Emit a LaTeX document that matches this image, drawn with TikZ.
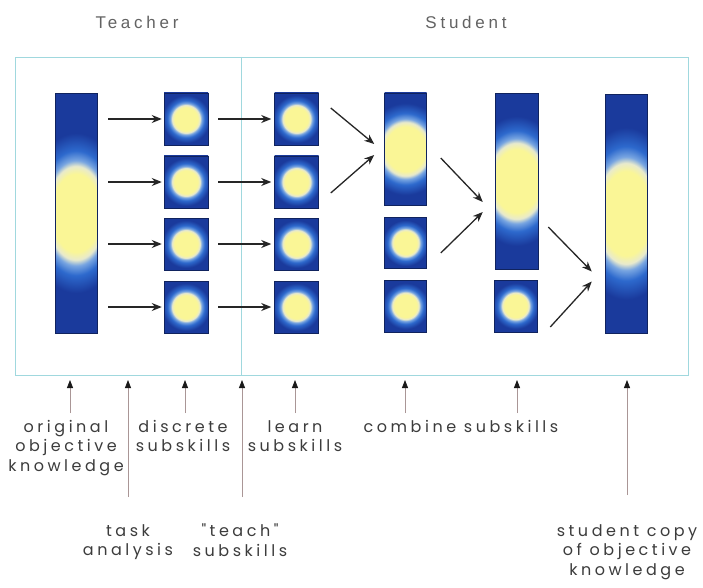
\documentclass[tikz,border=0pt]{standalone}
\usepackage{fontspec}
\setmainfont{Poppins}
\newfontfamily\labfont[LetterSpace=22]{Poppins}
\newfontfamily\headfont[LetterSpace=22]{Liberation Sans}
\usetikzlibrary{arrows.meta}
\definecolor{gd}{RGB}{26,58,156}
\definecolor{gm}{RGB}{45,105,205}
\definecolor{gl}{RGB}{120,165,225}
\definecolor{gw}{RGB}{232,234,205}
\definecolor{gy}{RGB}{250,246,150}
\definecolor{framec}{RGB}{160,216,222}
\definecolor{annc}{RGB}{170,150,150}
\definecolor{txt}{RGB}{60,60,60}
\pgfdeclareradialshading{glow}{\pgfpoint{0bp}{0bp}}{color(0bp)=(gy); color(10bp)=(gy); color(12bp)=(gw); color(13.5bp)=(gl); color(16bp)=(gm); color(20.5bp)=(gd); color(25bp)=(gd); color(50bp)=(gd)}
\tikzset{
  glowbox/.style n args={5}{rectangle, draw=gd!60!black, line width=0.5pt, inner sep=0pt,
    minimum width=#1, minimum height=#2,
    path picture={
      \fill[gd] (path picture bounding box.south west) rectangle (path picture bounding box.north east);
      \shade[shading=glow] ([shift={(-#4/2,#3-#5/2)}]path picture bounding box.center) rectangle ++(#4,#5);
    }},
  sq/.style={glowbox={44pt}{52pt}{0}{58}{58}},
  arr/.style={draw=black!85, line width=1.3pt, -{Stealth[length=10pt,width=8pt]}},
  ann/.style={draw=annc, line width=0.8pt, -{Triangle[length=8pt,width=6pt,color=black!90]}},
  lab/.style={font={\labfont\fontsize{16pt}{19.5pt}\selectfont}, text=txt, align=center, anchor=north, inner sep=0pt},
  head/.style={font={\headfont\fontsize{17pt}{20pt}\selectfont}, text=txt!80, inner sep=0pt},
}
\begin{document}
\begin{tikzpicture}[x=1pt,y=-1pt]
\useasboundingbox[fill=white] (0,0) rectangle (703,588);
% frame
\draw[framec, line width=0.9pt] (15,57) rectangle (688,375);
\draw[framec, line width=0.9pt] (241,57) -- (241,375);
\node[head] (teacher) at (137,22) {Teacher};
\node[head] (student) at (466,22) {Student};
% original bar
\node[glowbox={42pt}{240pt}{0}{120}{195}] (b0) at (76,213) {};
% discrete subskills
\node[sq] (a1) at (186,119) {};
\node[sq] (a2) at (186,182) {};
\node[sq] (a3) at (186,244) {};
\node[sq] (a4) at (186,307) {};
% learned subskills
\node[sq] (c1) at (296.5,119) {};
\node[sq] (c2) at (296.5,182) {};
\node[sq] (c3) at (296.5,244) {};
\node[sq] (c4) at (296.5,307) {};
% combine column
\node[glowbox={42pt}{112pt}{0}{100}{112}] (d1) at (405.5,149) {};
\node[glowbox={42pt}{51pt}{0}{56}{56}] (d2) at (405.5,243) {};
\node[glowbox={42pt}{52pt}{0}{56}{56}] (d3) at (405.5,306) {};
% next column
\node[glowbox={43pt}{176pt}{0}{115}{158}] (e1) at (516.5,181) {};
\node[glowbox={43pt}{52pt}{0}{56}{56}] (e2) at (515.5,306) {};
% final bar
\node[glowbox={42pt}{239pt}{0}{125}{210}] (f) at (626,213.5) {};
% arrows teacher
\foreach \i in {1,...,4}{
  \draw[arr, shorten <=11pt, shorten >=2pt] (b0.east |- a\i.west) -- (a\i.west);
  \draw[arr, shorten <=10pt, shorten >=3pt] (a\i.east) -- (c\i.west);
}
% arrows combine
\draw[arr] ([shift={(12,-11)}]c1.east) -- ([shift={(-10,-5)}]d1.west);
\draw[arr] ([shift={(12,11)}]c2.east) -- ([shift={(-10,6)}]d1.west);
\draw[arr] ([shift={(14,9)}]d1.east) -- ([shift={(-12,21)}]e1.west);
\draw[arr] ([shift={(14,10)}]d2.east) -- ([shift={(-12,31)}]e1.west);
\draw[arr] ([shift={(10,46)}]e1.east) -- ([shift={(-13,58)}]f.west);
\draw[arr] ([shift={(13,21)}]e2.east) -- ([shift={(-13,68)}]f.west);
% annotation anchors
\coordinate (p1) at (70,380);  \coordinate (t1) at (70,413);
\coordinate (p2) at (128,380); \coordinate (t2) at (128,497);
\coordinate (p3) at (185,380); \coordinate (t3) at (185,413);
\coordinate (p4) at (242,380); \coordinate (t4) at (242,497);
\coordinate (p5) at (295,380); \coordinate (t5) at (295,413);
\coordinate (p6) at (405,380); \coordinate (t6) at (405,413);
\coordinate (p7) at (517,380); \coordinate (t7) at (517,413);
\coordinate (p8) at (627,380); \coordinate (t8) at (627,495);
\foreach \i in {1,...,8}{\draw[ann] (t\i) -- (p\i);}
% labels
\node[lab] (l1) at (66,420) {original\\objective\\knowledge};
\node[lab] (l2) at (183,420) {discrete\\subskills};
\node[lab] (l3) at (295,420) {learn\\subskills};
\node[lab] (l4) at (461,420) {combine subskills};
\node[lab] (l5) at (128,524) {task\\analysis};
\node[lab] (l6) at (240,524) {"teach"\\subskills};
\node[lab] (l7) at (627,524) {student copy\\of objective\\knowledge};
\end{tikzpicture}
\end{document}
